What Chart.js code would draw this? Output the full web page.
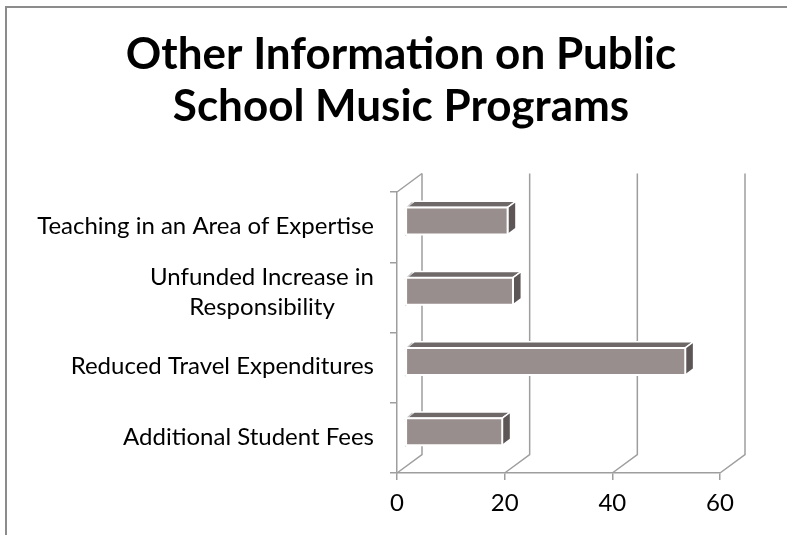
<!DOCTYPE html>
<html lang="en">
<head>
<meta charset="utf-8">
<script src="https://cdn.jsdelivr.net/npm/chart.js"></script>
<style>
  html, body { margin: 0; padding: 0; background: #fff; overflow: hidden; }
  #frame {
    position: absolute; left: 5px; top: 6px; width: 820px; height: 560px;
    border-top: 2px solid #8c8c8c; border-left: 2px solid #8c8c8c;
  }
  #chartCanvas { position: absolute; left: 0; top: 0; }
</style>
</head>
<body>
<div id="frame"></div>
<canvas id="chartCanvas" width="787" height="535"></canvas>

<script>
  const titleLines = ['Other Information on Public', 'School Music Programs'];
  const categories = [
    'Teaching in an Area of Expertise',
    ['Unfunded Increase in', 'Responsibility'],
    'Reduced Travel Expenditures',
    'Additional Student Fees'
  ];
  const values = [19, 20, 52, 18];
  const xTicks = [0, 20, 40, 60];

  const FONT = 'Lato, "Open Sans", sans-serif';
  const LINE = '#9e9e9e';
  // depth of the 3d box (back wall offset)
  const DX = 25, DY = -18.5;

  function line(ctx, pts) {
    ctx.beginPath();
    ctx.moveTo(pts[0][0], pts[0][1]);
    for (let i = 1; i < pts.length; i++) ctx.lineTo(pts[i][0], pts[i][1]);
    ctx.stroke();
  }

  function poly(ctx, pts, fill) {
    ctx.beginPath();
    ctx.moveTo(pts[0][0], pts[0][1]);
    for (let i = 1; i < pts.length; i++) ctx.lineTo(pts[i][0], pts[i][1]);
    ctx.closePath();
    ctx.fillStyle = fill;
    ctx.fill();
    ctx.stroke();
  }

  const box3d = {
    id: 'box3d',
    beforeDatasetsDraw(chart) {
      const ctx = chart.ctx;
      const a = chart.chartArea;
      const xs = chart.scales.x;
      ctx.save();
      ctx.strokeStyle = LINE;
      ctx.lineWidth = 1.5;
      // left wall top edge
      line(ctx, [[a.left, a.top], [a.left + DX, a.top + DY]]);
      // floor diagonals and back wall verticals
      xTicks.forEach(v => {
        const px = xs.getPixelForValue(v);
        line(ctx, [[px, a.bottom], [px + DX, a.bottom + DY], [px + DX, a.top + DY]]);
      });
      ctx.restore();
    },
    beforeDatasetDraw(chart, args) {
      const ctx = chart.ctx;
      const meta = chart.getDatasetMeta(args.index);
      const fx = DX / 3, fy = DY / 3;
      ctx.save();
      ctx.lineJoin = 'round';
      meta.data.forEach(el => {
        const p = el.getProps(['x', 'y', 'base', 'height'], true);
        const l = p.base + fx, r = p.x + fx;
        const t = p.y - p.height / 2 + fy, b = p.y + p.height / 2 + fy;
        ctx.strokeStyle = '#ffffff';
        ctx.lineWidth = 1.5;
        // top face
        poly(ctx, [[l, t], [r, t], [r + fx, t + fy], [l + fx, t + fy]], '#6e6868');
        // end face
        poly(ctx, [[r, t], [r + fx, t + fy], [r + fx, b + fy], [r, b]], '#5c5657');
        // left edge highlight
        ctx.strokeStyle = '#c4c4c4';
        line(ctx, [[l - 1, t + 2], [l + fx - 2, t + fy + 1]]);
        line(ctx, [[l - 1, b + 1], [l + 2, b - 1]]);
        // front face
        ctx.strokeStyle = '#ffffff';
        ctx.lineWidth = 2;
        poly(ctx, [[l, t], [r, t], [r, b], [l, b]], '#988e8e');
      });
      ctx.restore();
      return false;
    },
    afterDraw(chart) {
      const ctx = chart.ctx;
      const ys = chart.scales.y;
      ctx.save();
      ctx.fillStyle = '#000';
      // title
      ctx.font = 'bold 44px ' + FONT;
      ctx.textAlign = 'center';
      ctx.textBaseline = 'alphabetic';
      ctx.fillText(titleLines[0], 401, 69);
      ctx.fillText(titleLines[1], 401, 121);
      // category labels, right aligned block, lines centred in the block
      ctx.font = '24px ' + FONT;
      ctx.textBaseline = 'middle';
      categories.forEach((c, i) => {
        const lines = Array.isArray(c) ? c : [c];
        const w = Math.max(...lines.map(s => ctx.measureText(s).width));
        const cx = 374 - w / 2;
        const yc = ys.getPixelForValue(i) - (lines.length > 1 ? 5 : 1);
        lines.forEach((s, j) => {
          ctx.fillText(s, cx, yc + (j - (lines.length - 1) / 2) * 30);
        });
      });
      ctx.restore();
    }
  };

  const chart = new Chart(document.getElementById('chartCanvas').getContext('2d'), {
    type: 'bar',
    data: {
      labels: categories,
      datasets: [{
        data: values,
        backgroundColor: '#988e8e',
        categoryPercentage: 1,
        barPercentage: 0.385
      }]
    },
    options: {
      indexAxis: 'y',
      responsive: false,
      animation: false,
      layout: { padding: { top: 192, right: 67, bottom: 0, left: 0 } },
      scales: {
        x: {
          min: 0,
          max: 60,
          afterBuildTicks(scale) { scale.ticks = xTicks.map(v => ({ value: v })); },
          afterFit(scale) { scale.height = 62; },
          ticks: { color: '#000', padding: 9, font: { family: FONT, size: 24 } },
          grid: { drawOnChartArea: false, tickLength: 7, color: LINE, lineWidth: 1.5 },
          border: { color: LINE, width: 1.5 }
        },
        y: {
          afterFit(scale) { scale.width = 397; },
          ticks: { display: false },
          grid: { offset: true, drawOnChartArea: false, tickLength: 7, color: LINE, lineWidth: 1.5 },
          border: { color: LINE, width: 1.5 }
        }
      },
      plugins: {
        legend: { display: false },
        tooltip: { enabled: false }
      }
    },
    plugins: [box3d]
  });
</script>
</body>
</html>
